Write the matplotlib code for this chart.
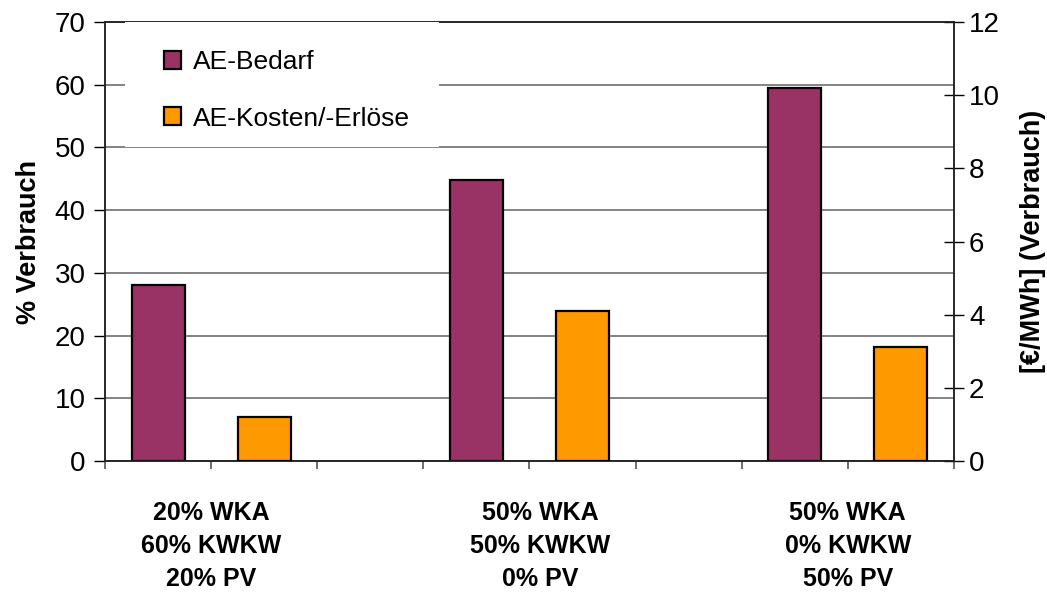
import matplotlib.pyplot as plt
from matplotlib.patches import Rectangle
import numpy as np

plt.rcParams["font.family"] = ["Liberation Sans", "DejaVu Sans"]

# data
scenarios = ["20% WKA\n60% KWKW\n20% PV", "50% WKA\n50% KWKW\n0% PV", "50% WKA\n0% KWKW\n50% PV"]
ae_bedarf = [28.0, 44.8, 59.4]          # % Verbrauch (left axis)
ae_kosten = [1.21, 4.11, 3.11]          # EUR/MWh (right axis)

left_ticks = np.arange(0, 71, 10)
right_ticks = np.arange(0, 13, 2)

purple = "#993366"
orange = "#FF9900"

fig = plt.figure(figsize=(10.47, 5.95), dpi=100)
ax = fig.add_axes([0.1003, 0.2252, 0.8107, 0.7378])
ax2 = ax.twinx()

# 8 category slots: bedarf at 0,3,6 and kosten at 1,4,7
n_slots = 8
pos_bedarf = np.arange(len(scenarios)) * 3
pos_kosten = pos_bedarf + 1

ax.bar(pos_bedarf, ae_bedarf, width=0.5, color=purple, edgecolor="black",
       linewidth=1.6, label="AE-Bedarf", zorder=3)
ax2.bar(pos_kosten, ae_kosten, width=0.5, color=orange, edgecolor="black",
        linewidth=1.6, label="AE-Kosten/-Erlöse", zorder=3)

ax.set_xlim(-0.5, n_slots - 0.5)
ax.set_ylim(0, 70)
ax2.set_ylim(0, 12)
ax.set_yticks(left_ticks)
ax2.set_yticks(right_ticks)

ax.yaxis.grid(True, color="#7a7a7a", linewidth=1.3)
ax.set_axisbelow(True)

ax.set_xticks(np.arange(n_slots + 1) - 0.5)
ax.set_xticklabels([])
ax.tick_params(axis="x", direction="out", length=6, width=1.2, color="#555555")
ax.tick_params(axis="y", direction="out", length=8, width=1, labelsize=20, pad=6)
ax2.tick_params(axis="y", direction="inout", length=14, width=1, labelsize=20, pad=4)

for a in (ax, ax2):
    for s in a.spines.values():
        s.set_linewidth(1.1)
        s.set_color("#222222")

ax.set_ylabel("% Verbrauch", fontsize=19.5, fontweight="bold", labelpad=9)
ax2.set_ylabel("[€/MWh] (Verbrauch)", fontsize=19.5, fontweight="bold", labelpad=14)

label_x = [0.5, 3.6, 6.5]
for x, txt in zip(label_x, scenarios):
    ax.text(x, -0.092, txt, transform=ax.get_xaxis_transform(), ha="center", va="top",
            fontsize=18, fontweight="bold", linespacing=1.47)

# white block behind the legend, hiding the grid lines
ax2.add_patch(Rectangle((0.0236, 0.716), 0.37, 0.284, transform=ax2.transAxes,
                        facecolor="white", edgecolor="none", zorder=5))

h1, l1 = ax.get_legend_handles_labels()
h2, l2 = ax2.get_legend_handles_labels()
leg = ax2.legend(h1 + h2, l1 + l2, loc="upper left", bbox_to_anchor=(0.0695, 0.936),
                 fontsize=19, frameon=False, handlelength=0.65,
                 handleheight=0.65, handletextpad=0.45, labelspacing=1.23,
                 borderpad=0, borderaxespad=0)
leg.set_zorder(10)
for p in leg.get_patches():
    p.set_linewidth(1.6)

fig.savefig("out.png", dpi=100)
